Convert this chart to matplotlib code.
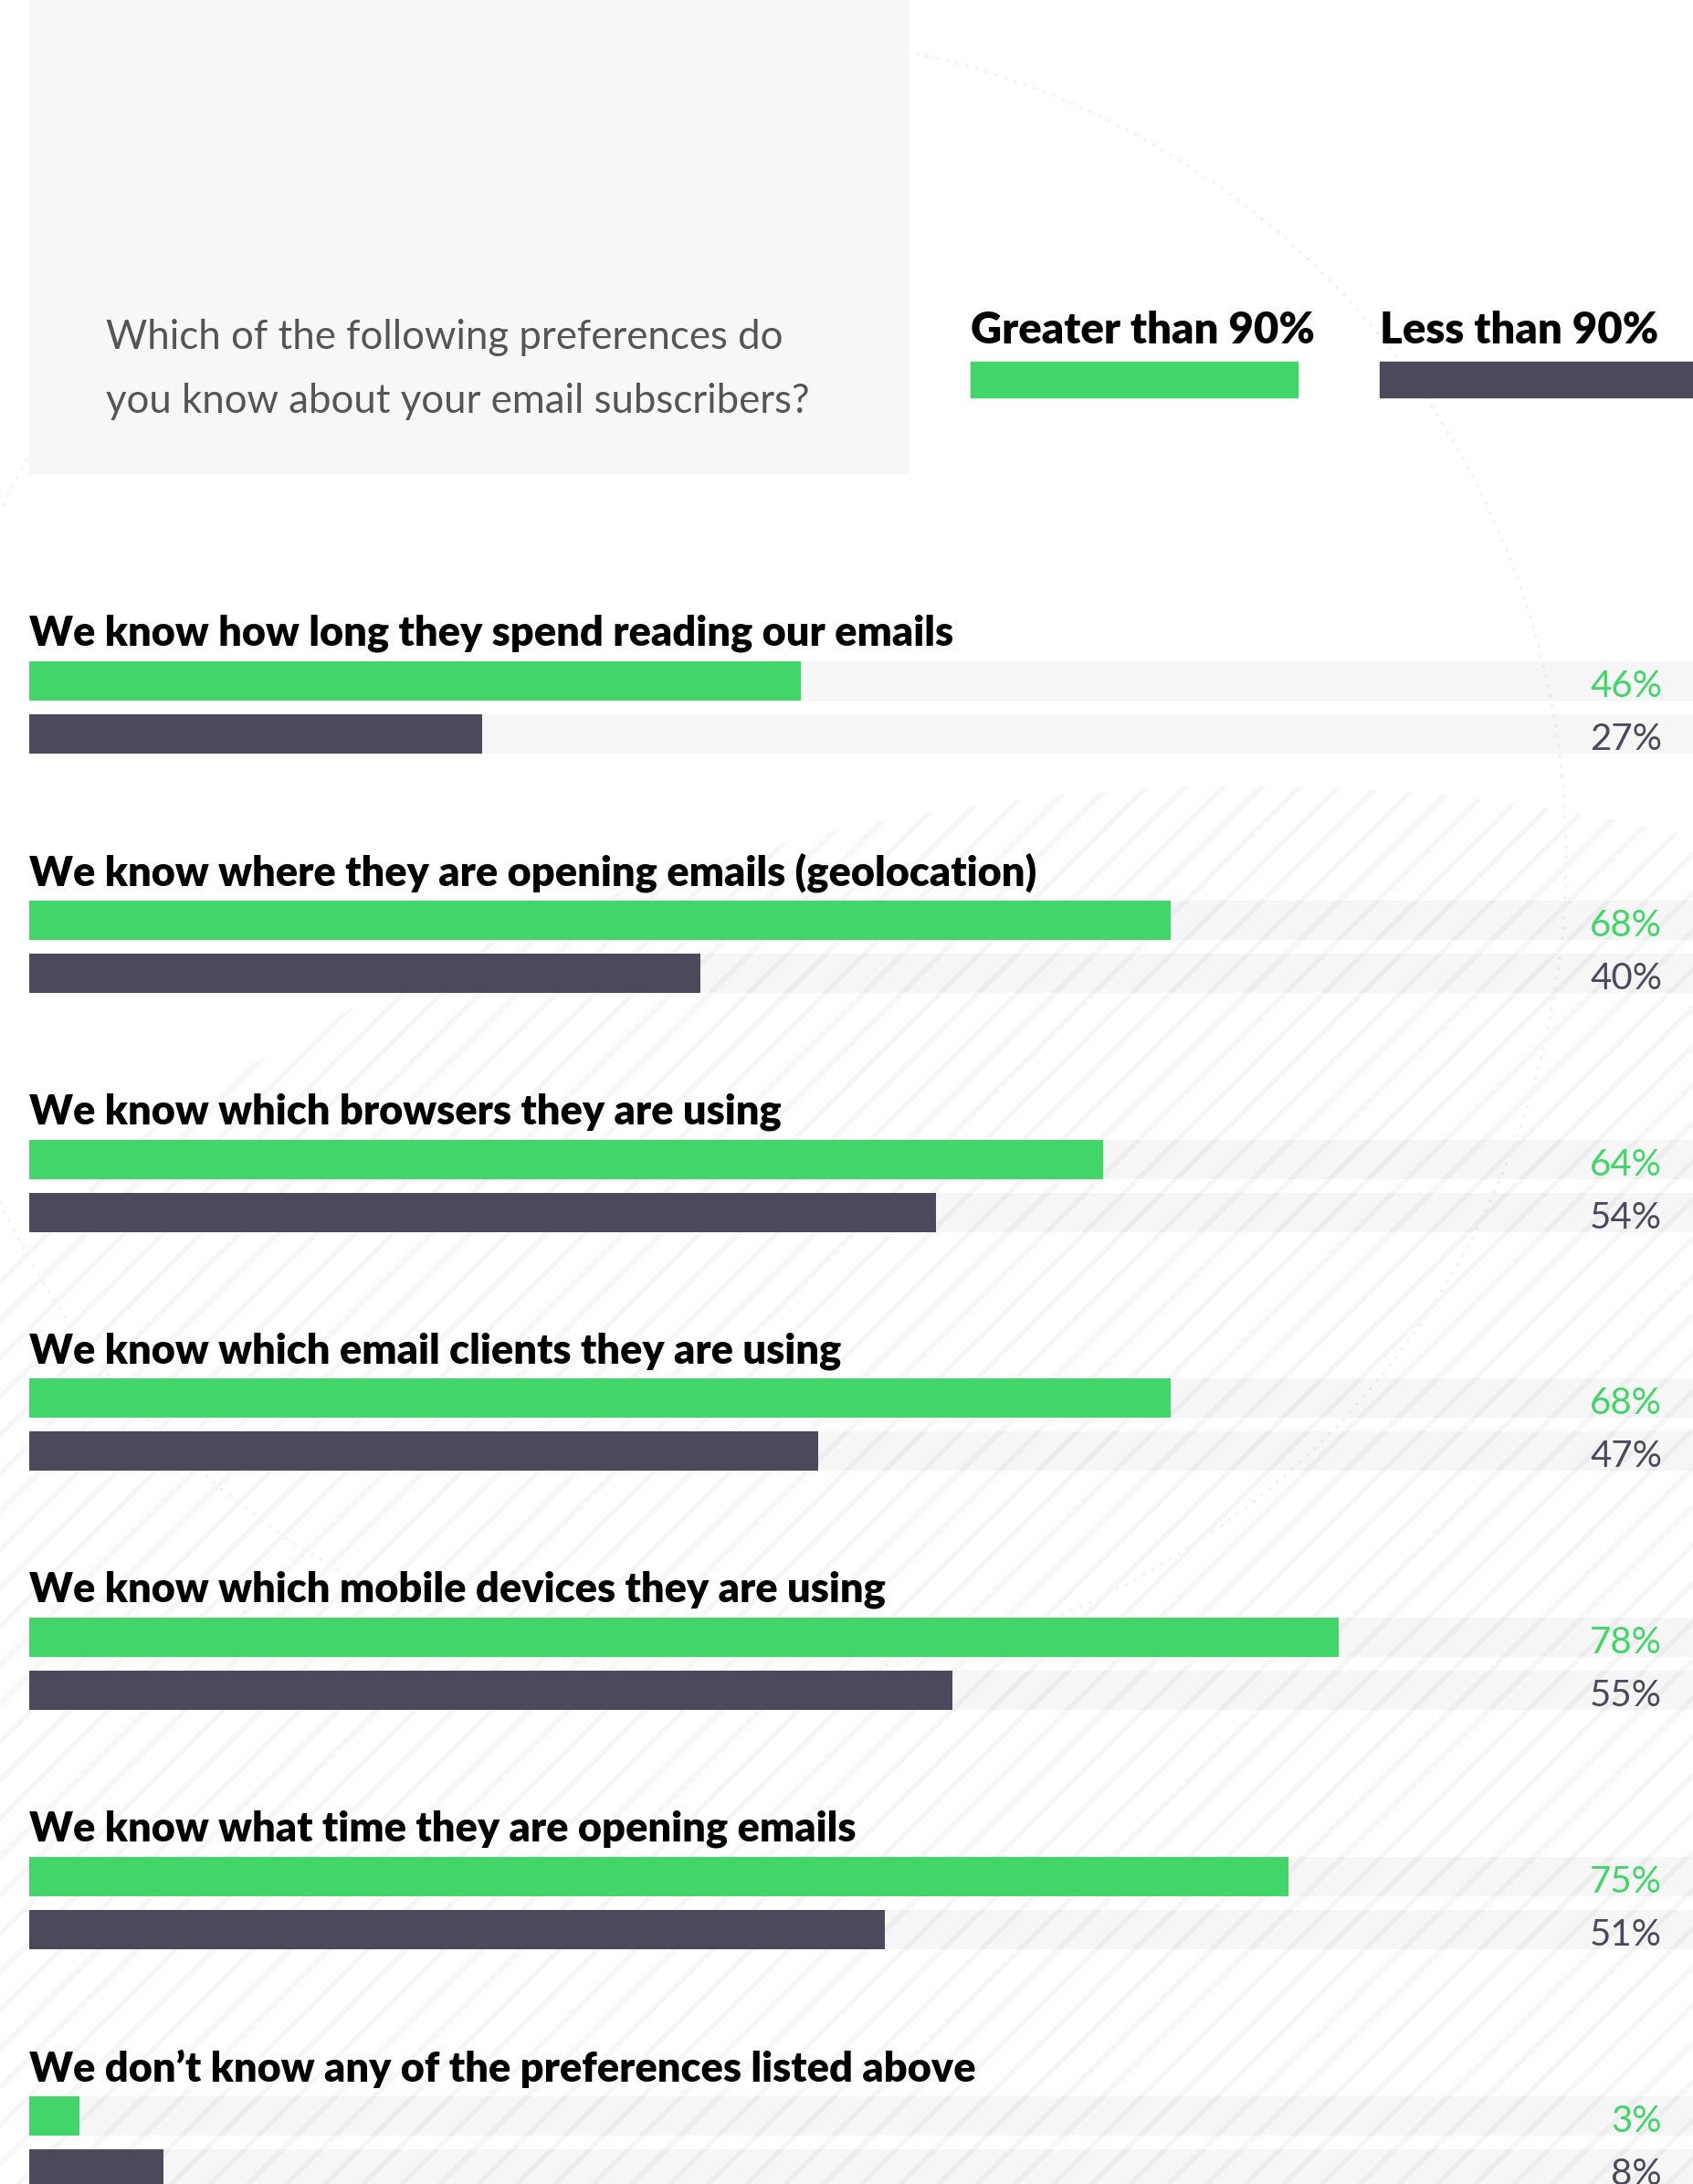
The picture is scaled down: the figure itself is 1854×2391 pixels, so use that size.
import numpy as np
import matplotlib
matplotlib.use("Agg")
import matplotlib.pyplot as plt
from matplotlib.patches import Rectangle, Circle

plt.rcParams['font.family'] = ['Lato', 'DejaVu Sans']

# survey answers
questions = [
    "We know how long they spend reading our emails",
    "We know where they are opening emails (geolocation)",
    "We know which browsers they are using",
    "We know which email clients they are using",
    "We know which mobile devices they are using",
    "We know what time they are opening emails",
    "We don\u2019t know any of the preferences listed above",
]
greater_90 = [46, 68, 64, 68, 78, 75, 3]
less_90 = [27, 40, 54, 47, 55, 51, 8]
series_names = ["Greater than 90%", "Less than 90%"]

GREEN = "#41d56a"
DARK = "#4a4a5c"

W, H = 1854, 2391
fig = plt.figure(figsize=(W / 100, H / 100), dpi=100)
fig.patch.set_facecolor("white")

# background layer in pixel units
bg = fig.add_axes([0, 0, 1, 1], zorder=0)
bg.set_xlim(0, W)
bg.set_ylim(H, 0)
bg.axis("off")

# faint striped disc
disc = Circle((1370, 2970), 2110, transform=bg.transData)
for x0 in np.arange(-2600, W + 200, 42):
    ln, = bg.plot([x0, x0 + 2600], [H + 100, H + 100 - 2600],
                  color="#f6f6f6", lw=3.8, solid_capstyle="butt")
    ln.set_clip_path(disc)

# dotted ring
ring = Circle((816, 938), 899, fill=False, ec="#efefef", lw=2, ls=(0, (1, 3)))
bg.add_patch(ring)

# question box
bg.add_patch(Rectangle((32, 0), 962, 518, color="#f7f7f7", zorder=2))
bg.text(116, 370, "Which of the following preferences do", fontsize=31.5,
        color="#555555", va="center", ha="left", zorder=3)
bg.text(116, 439, "you know about your email subscribers?", fontsize=31.5,
        color="#555555", va="center", ha="left", zorder=3)

# legend
for lx, sw, name, col in [(1063, 358, series_names[0], GREEN),
                          (1511, 360, series_names[1], DARK)]:
    bg.text(lx, 362, name, fontsize=34, fontweight="heavy", color="black",
            va="center", ha="left")
    bg.add_patch(Rectangle((lx, 396), sw, 39, color=col))

# bars
ax = fig.add_axes([0, 0, 1, 1], zorder=1)
ax.patch.set_alpha(0)
px_per_pct = 18.38
unit = 261.8
ax.set_xlim(-32 / px_per_pct, (W - 32) / px_per_pct)
ax.set_ylim((H - 745.5) / unit, -745.5 / unit)
ax.axis("off")

idx = np.arange(len(questions))
off = 58 / unit
bh = 43 / unit
label_x = (1820 - 32) / px_per_pct
nudge = 6 / unit

# translucent tracks
ax.barh(idx, [100] * len(idx), height=bh, color="black", alpha=0.035)
ax.barh(idx + off, [100] * len(idx), height=bh, color="black", alpha=0.035)
ax.barh(idx, greater_90, height=bh, color=GREEN)
ax.barh(idx + off, less_90, height=bh, color=DARK)

for i, q in enumerate(questions):
    ax.text(0, i - 52 / unit, q, fontsize=32.5, fontweight="heavy",
            color="black", va="center", ha="left")
    ax.text(label_x, i + nudge, f"{greater_90[i]}%", fontsize=29, color=GREEN,
            va="center", ha="right")
    ax.text(label_x, i + off + nudge, f"{less_90[i]}%", fontsize=29, color=DARK,
            va="center", ha="right")

fig.savefig("out.png", dpi=100, facecolor="white")
